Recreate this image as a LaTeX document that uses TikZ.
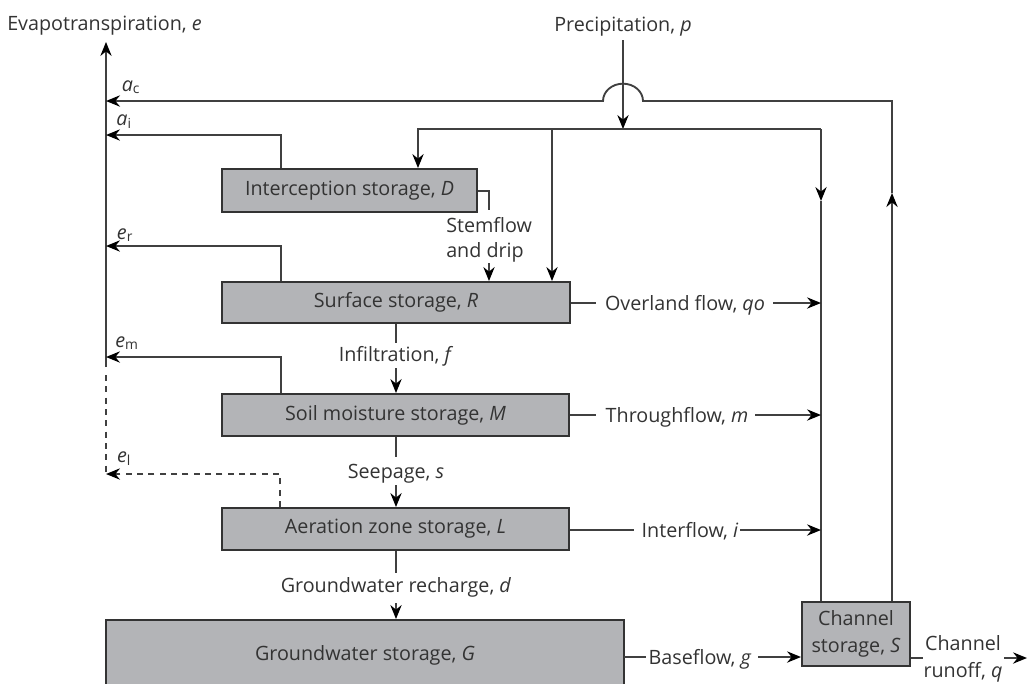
\documentclass[tikz,border=0pt]{standalone}
\usepackage{fontspec}
\setmainfont{Open Sans}
\usetikzlibrary{arrows.meta}
\definecolor{boxfill}{HTML}{B3B4B7}
\definecolor{ink}{HTML}{333333}
\definecolor{lc}{HTML}{404040}
\begin{document}
\begin{tikzpicture}[x=0.75pt,y=-0.75pt,
  font=\fontsize{14.8}{19}\selectfont,
  ln/.style={draw=lc, line width=1.1pt},
  arr/.style={ln, -{Stealth[length=10.5pt,width=8.5pt,inset=3.5pt,color=black]}},
  dsh/.style={dash pattern=on 4.5pt off 4pt},
  store/.style={draw=ink, fill=boxfill, line width=1.5pt, inner sep=0pt, text=ink},
  lbl/.style={text=ink, inner sep=0pt, text height=10.5pt, text depth=0pt},
  mlbl/.style={text=ink, inner sep=0pt, align=center, font=\fontsize{14.8}{20}\selectfont}]
\clip (0,0) rectangle (1028,683);
% storage boxes
\node[store, minimum width=191.25pt, minimum height=32.25pt] (D) at (349.5,190.5) {Interception storage, \textit{D}};
\node[store, minimum width=261pt, minimum height=30.75pt] (R) at (396,302.5) {Surface storage, \textit{R}};
\node[store, minimum width=260.25pt, minimum height=31.5pt] (M) at (395.5,415) {Soil moisture storage, \textit{M}};
\node[store, minimum width=260.25pt, minimum height=31.5pt] (L) at (395.5,529) {Aeration zone storage, \textit{L}};
\node[store, minimum width=388.5pt, minimum height=60pt] (G) at (365,660) {};
\node[lbl] (Gt) at (365,653) {Groundwater storage, \textit{G}};
\node[store, minimum width=81pt, minimum height=48pt, align=center, font=\fontsize{14.8}{20}\selectfont] (S) at (856,634) {Channel\\storage, \textit{S}};
% top labels
\node[lbl, anchor=west] (evap) at (7,23) {Evapotranspiration, \textit{e}};
\node[lbl] (prec) at (623,24) {Precipitation, \textit{p}};
% left evapotranspiration column
\coordinate (ev0) at (106,367);
\coordinate (evT) at (106,42);
\coordinate (ev1) at (106,375);
\coordinate (ev2) at (106,474);
\draw[arr] (ev0) -- (evT);
\draw[ln, dsh] (ev1) -- (ev2);
% precipitation distribution
\coordinate (p0) at (623,40);
\coordinate (pj) at (623,129);
\coordinate (dI) at (418,129);
\coordinate (dR) at (552,129);
\coordinate (dC) at (821,129);
\coordinate (dCm) at (821,201);
\draw[arr] (p0) -- (pj);
\draw[arr] (pj) -- (dI) -- (D.north -| dI);
\draw[arr] (dR) -- (R.north -| dR);
\draw[ln] (pj) -- (dC);
\draw[arr] (dC) -- (dCm);
\draw[ln] (dCm) -- (S.north -| dC);
% channel evaporation a_c with hop
\coordinate (uC) at (892,101);
\coordinate (uCm) at (892,193);
\coordinate (hopR) at (643,101);
\coordinate (ac) at (106,101);
\draw[arr, line width=1.4pt] (S.north -| uC) -- (uCm);
\draw[arr, line width=1.4pt] (uCm) -- (uC) -- (hopR) arc[start angle=0, end angle=180, x radius=15pt, y radius=13pt] -- (ac);
\node[lbl] (lac) at (131,84) {\textit{a}\textsubscript{c}};
% interception evaporation a_i
\coordinate (xi) at (281,135);
\draw[arr] (D.north -| xi) -- (xi) -- (xi -| ac);
\node[lbl] (lai) at (124,118) {\textit{a}\textsubscript{i}};
% e_r
\coordinate (xr) at (281,246);
\draw[arr] (R.north -| xr) -- (xr) -- (xr -| ac);
\node[lbl] (ler) at (125,232) {\textit{e}\textsubscript{r}};
% e_m
\coordinate (xm) at (281,357);
\draw[arr] (M.north -| xm) -- (xm) -- (xm -| ac);
\node[lbl] (lem) at (127,340) {\textit{e}\textsubscript{m}};
% e_l dashed
\coordinate (xl) at (280,474);
\draw[arr, dsh] (L.north -| xl) -- (xl) -- (ev2);
\node[lbl] (lel) at (124,455) {\textit{e}\textsubscript{l}};
% stemflow and drip
\coordinate (s1) at (489,191);
\coordinate (s2) at (489,210);
\coordinate (s3) at (489,263);
\draw[ln] (D.east |- s1) -- (s1) -- (s2);
\node[mlbl, align=left, anchor=west, font=\fontsize{14.8}{19}\selectfont] (stem) at (446,240) {Stemflow\\and drip};
\draw[arr] (s3) -- (R.north -| s3);
% infiltration
\coordinate (f1) at (396,343);
\coordinate (f2) at (396,368);
\draw[ln] (R.south -| f1) -- (f1);
\node[lbl] (inf) at (396,354) {Infiltration, \textit{f}};
\draw[arr] (f2) -- (M.north -| f2);
% seepage
\coordinate (se1) at (396,457);
\coordinate (se2) at (396,485);
\draw[ln] (M.south -| se1) -- (se1);
\node[lbl] (seep) at (396,471) {Seepage, \textit{s}};
\draw[arr] (se2) -- (L.north -| se2);
% groundwater recharge
\coordinate (g1) at (396,573);
\coordinate (g2) at (396,603);
\draw[ln] (L.south -| g1) -- (g1);
\node[lbl] (rech) at (396,585) {Groundwater recharge, \textit{d}};
\draw[arr] (g2) -- (G.north -| g2);
% overland flow
\coordinate (o1) at (596,303);
\coordinate (o2) at (773,303);
\draw[ln] (R.east |- o1) -- (o1);
\node[lbl] (ovl) at (685,303) {Overland flow, \textit{qo}};
\draw[arr] (o2) -- (o2 -| dC);
% throughflow
\coordinate (t1) at (596,415);
\coordinate (t2) at (755,415);
\draw[ln] (M.east |- t1) -- (t1);
\node[lbl] (thr) at (677,415) {Throughflow, \textit{m}};
\draw[arr] (t2) -- (t2 -| dC);
% interflow
\coordinate (i1) at (634,530);
\coordinate (i2) at (740,530);
\draw[ln] (L.east |- i1) -- (i1);
\node[lbl] (itf) at (690,530) {Interflow, \textit{i}};
\draw[arr] (i2) -- (i2 -| dC);
% baseflow
\coordinate (b0) at (624,657);
\coordinate (b1) at (646,657);
\coordinate (b2) at (758,657);
\draw[ln] (b0) -- (b1);
\node[lbl] (bsf) at (700,657) {Baseflow, \textit{g}};
\draw[arr] (b2) -- (S.west |- b2);
% channel runoff
\coordinate (r1) at (923,658);
\coordinate (r2) at (1004,658);
\coordinate (r3) at (1027,658);
\draw[ln] (S.east |- r1) -- (r1);
\node[mlbl] (run) at (963,659) {Channel\\runoff, \textit{q}};
\draw[arr] (r2) -- (r3);
\end{tikzpicture}
\end{document}
